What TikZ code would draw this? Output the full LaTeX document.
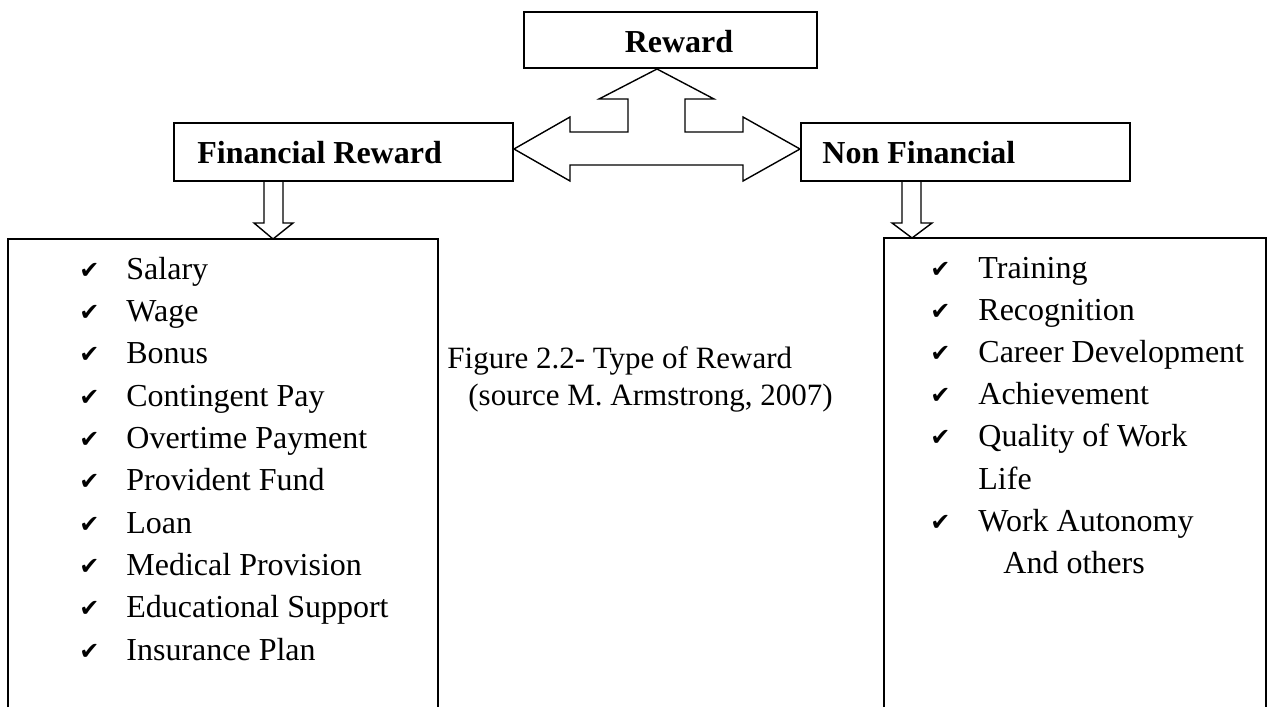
\documentclass[tikz,border=0pt]{standalone}
\usepackage{fontspec}
\setmainfont{Liberation Serif}
\newfontfamily\chkfont{DejaVu Sans}
\usetikzlibrary{fit}
\begin{document}
\begin{tikzpicture}[x=0.5pt,y=-0.5pt,
  box/.style={draw, line width=1pt, inner sep=0pt},
  arr/.style={draw, line width=0.7pt, line join=miter},
  hdr/.style={font=\bfseries\fontsize{16}{19}\selectfont, inner sep=0pt, anchor=base west},
  item/.style={font=\fontsize{16}{19}\selectfont, inner sep=0pt, anchor=base west},
  tick/.style={font=\chkfont\fontsize{12}{14}\selectfont, inner sep=0pt, anchor=base west},
  captxt/.style={font=\fontsize{15.5}{19}\selectfont, inner sep=0pt, anchor=base west}]
\useasboundingbox (0,0) rectangle (1267,707);

% header boxes
\node[box, fit={(524,12) (817,68)}] (rew) {};
\node[box, fit={(174,123) (513,181)}] (fin) {};
\node[box, fit={(801,123) (1130,181)}] (nfin) {};
\node[hdr, anchor=base] (rewt) at (679,52) {Reward};
\node[hdr] (fint) at (197,163) {Financial Reward};
\node[hdr] (nfint) at (822,163) {Non Financial};

% three-way arrow
\draw[arr] (rew.south -| 657,0) -- (714,99) -- (685,99) -- (685,132) -- (743,132) -- (743,117)
  -- (nfin.west |- 0,149) -- (743,181) -- (743,165) -- (570,165) -- (570,181)
  -- (fin.east |- 0,149) -- (570,117) -- (570,132) -- (628,132) -- (628,99) -- (599,99) -- cycle;

% list boxes (open at the bottom)
\coordinate (lb) at (8,239);
\coordinate (rb) at (884,238);
\draw[line width=1pt] (8,707) -- (lb) -- (438,239) -- (438,707);
\draw[line width=1pt] (884,707) -- (rb) -- (1266,238) -- (1266,707);

% down arrows
\draw[arr] (264,181) -- (264,223) -- (254,223) -- (273,239) -- (293,223) -- (283,223) -- (283,181);
\draw[arr] (902,181) -- (902,223) -- (892,223) -- (912,238) -- (932,223) -- (921,223) -- (921,181);

% left list
\foreach \t [count=\i from 0] in {Salary,Wage,Bonus,Contingent Pay,Overtime Payment,Provident Fund,Loan,Medical Provision,Educational Support,Insurance Plan}{
  \node[tick] (lc\i) at (79,278+42.35*\i) {✔};
  \node[item] (li\i) at (126,279+42.35*\i) {\t};
}

% right list
\foreach \t [count=\i from 0] in {Training,Recognition,Career Development,Achievement,Quality of Work}{
  \node[tick] (rc\i) at (930,277+42.2*\i) {✔};
  \node[item] (ri\i) at (978,278+42.2*\i) {\t};
}
\node[item] (rlife) at (978,278+42.2*5) {Life};
\node[tick] (rc6) at (930,277+42.2*6) {✔};
\node[item] (ri6) at (978,278+42.2*6) {Work Autonomy};
\node[item] (rothers) at (1003,278+42.2*7) {And others};

% caption
\node[captxt] (cap1) at (447,368) {Figure 2.2- Type of Reward};
\node[captxt] (cap2) at (468,405) {(source M. Armstrong, 2007)};
\end{tikzpicture}
\end{document}
